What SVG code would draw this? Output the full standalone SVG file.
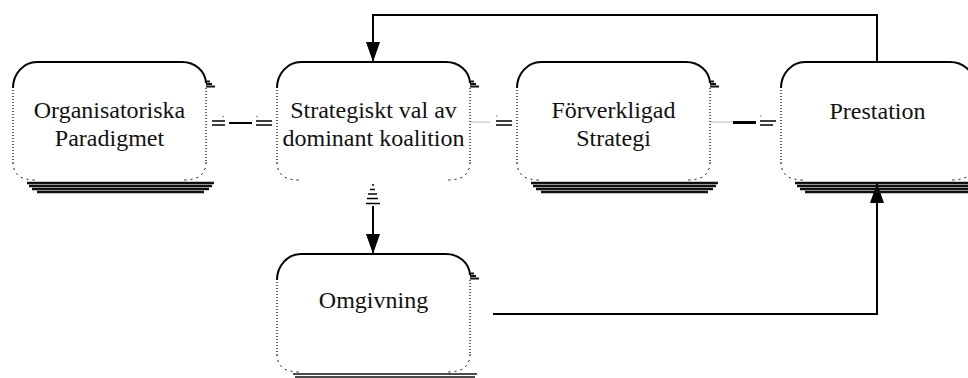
<svg xmlns="http://www.w3.org/2000/svg" width="968" height="378" viewBox="0 0 968 378">
  <defs>
    <style>
      .body{fill:#fff;stroke:none}
      .top{fill:none;stroke:#000;stroke-width:2}
      .side{fill:none;stroke:#000;stroke-width:1.2;stroke-dasharray:1 2}
      .corner{fill:none;stroke:#000;stroke-width:1;stroke-dasharray:2 4}
      .wedge{stroke:#111;stroke-width:2}
      .shade{stroke:#111;stroke-width:2.4}
      .shade2{stroke:#111;stroke-width:1.6}
      .label{font-size:24px;fill:#111;text-anchor:middle}
      .wire{fill:none;stroke:#000;stroke-width:2}
      .eq{stroke:#000;stroke-width:1.5}
      .faint{stroke:#bbb;stroke-width:1}
      .speck{stroke:#888;stroke-width:1}
    </style>
    <marker id="head" viewBox="0 0 20 14" refX="20" refY="7" markerWidth="20" markerHeight="14" markerUnits="userSpaceOnUse" orient="auto">
      <path d="M0,0 L20,7 L0,14 Z" fill="#000"/>
    </marker>
    <!-- rounded box frame: solid top, dotted sides, dashed lower corners -->
    <g id="frame">
      <path class="body" d="M0,26 A24,26 0 0 1 24,0 H169 A24,22 0 0 1 193,22 V100 Q193,118 173,118 H20 Q0,118 0,100 Z"/>
      <path class="top" d="M0,26 A24,26 0 0 1 24,0 H169 A24,22 0 0 1 193,21"/>
      <path class="side" d="M0,28 V100 M193,26 V100"/>
      <path class="corner" d="M0,100 Q0,118 22,118 M193,100 Q193,118 171,118"/>
    </g>
    <g id="wedge">
      <line class="wedge" x1="193" y1="19.5" x2="197" y2="19.5"/>
      <line class="wedge" x1="193" y1="22" x2="199" y2="22"/>
      <line class="wedge" x1="193" y1="24.5" x2="202" y2="24.5"/>
    </g>
    <g id="shade4">
      <line class="shade" x1="14" y1="121" x2="201" y2="121"/>
      <line class="shade" x1="16" y1="124" x2="199" y2="124"/>
      <line class="shade" x1="19" y1="127" x2="196" y2="127"/>
      <line class="shade" x1="24" y1="130" x2="191" y2="130"/>
    </g>
    <g id="shade2">
      <line class="shade2" x1="16" y1="120" x2="200" y2="120"/>
      <line class="shade2" x1="18" y1="123" x2="198" y2="123"/>
    </g>
  </defs>

  <rect width="968" height="378" fill="#fff"/>

  <g id="connectors">
    <!-- feedback loop over the top -->
    <path class="wire" d="M877,62 V15 H373 V62" marker-end="url(#head)"/>
    <!-- Omgivning to Prestation -->
    <path class="wire" d="M493,314 H877 V183" marker-end="url(#head)"/>
    <!-- Strategiskt val down to Omgivning -->
    <g>
      <line class="eq" x1="372" y1="185" x2="374" y2="185"/>
      <line class="eq" x1="370" y1="189.5" x2="375" y2="189.5"/>
      <line class="eq" x1="368" y1="194" x2="377" y2="194"/>
      <line class="eq" x1="367" y1="198.5" x2="378" y2="198.5"/>
      <line class="eq" x1="366" y1="203.5" x2="380" y2="203.5"/>
      <path class="wire" d="M373,206 V254" marker-end="url(#head)"/>
    </g>
    <!-- Organisatoriska to Strategiskt -->
    <g>
      <line class="speck" x1="222" y1="116.5" x2="224" y2="116.5"/>
      <line class="eq" x1="212" y1="121" x2="225" y2="121"/>
      <line class="eq" x1="212" y1="125" x2="225" y2="125"/>
      <line class="wire" x1="229" y1="123" x2="252" y2="123"/>
      <line class="speck" x1="256" y1="116.5" x2="258" y2="116.5"/>
      <line class="eq" x1="256" y1="121" x2="272" y2="121"/>
      <line class="eq" x1="256" y1="125" x2="272" y2="125"/>
    </g>
    <!-- Strategiskt to Förverkligad -->
    <g>
      <line class="faint" x1="470" y1="122" x2="490" y2="122"/>
      <line class="speck" x1="496" y1="116" x2="498" y2="116"/>
      <line class="eq" x1="496" y1="121" x2="512" y2="121"/>
      <line class="eq" x1="496" y1="125" x2="512" y2="125"/>
    </g>
    <!-- Förverkligad to Prestation -->
    <g>
      <line class="faint" x1="710" y1="122" x2="733" y2="122"/>
      <line class="wire" x1="733" y1="122.5" x2="756" y2="122.5" style="stroke-width:3"/>
      <line class="speck" x1="760" y1="116" x2="762" y2="116"/>
      <line class="eq" x1="760" y1="121" x2="776" y2="121"/>
      <line class="eq" x1="760" y1="125" x2="773" y2="125"/>
    </g>
  </g>

  <g id="labels" font-family="'Liberation Serif', 'DejaVu Serif', serif">
  <g id="organisatoriska" transform="translate(13,62)">
    <use href="#shade4"/>
    <use href="#frame"/>
    <use href="#wedge"/>
    <text class="label" x="96.5" y="56">Organisatoriska</text>
    <text class="label" x="96.5" y="84">Paradigmet</text>
  </g>

  <g id="strategiskt" transform="translate(277,62)">
    <use href="#frame"/>
    <use href="#wedge"/>
    <text class="label" x="96.5" y="56">Strategiskt val av</text>
    <text class="label" x="96.5" y="84">dominant koalition</text>
  </g>

  <g id="forverkligad" transform="translate(517,62)">
    <use href="#shade4"/>
    <use href="#frame"/>
    <use href="#wedge"/>
    <text class="label" x="96.5" y="56">Förverkligad</text>
    <text class="label" x="96.5" y="84">Strategi</text>
  </g>

  <g id="prestation" transform="translate(781,62)">
    <use href="#shade4"/>
    <use href="#frame"/>
    <text class="label" x="96.5" y="57">Prestation</text>
  </g>

  <g id="omgivning" transform="translate(277,254)">
    <use href="#shade2"/>
    <use href="#frame"/>
    <use href="#wedge"/>
    <text class="label" x="96.5" y="54">Omgivning</text>
  </g>
  </g>
</svg>
